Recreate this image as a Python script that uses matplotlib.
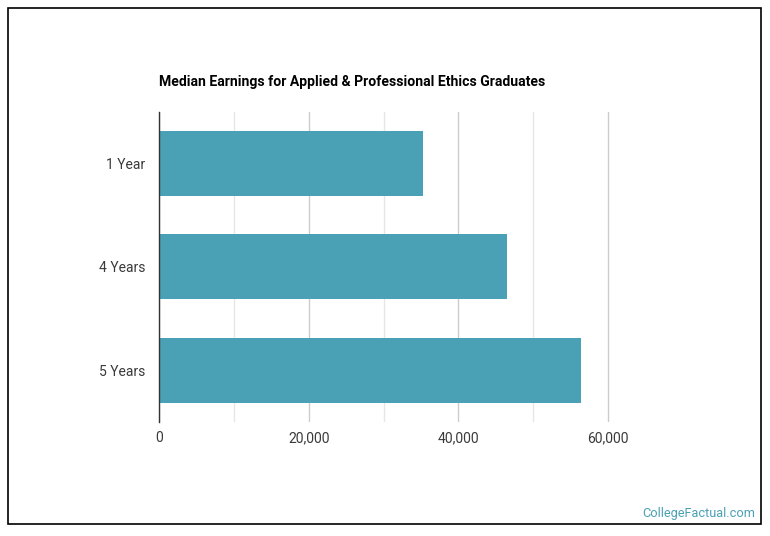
import matplotlib.pyplot as plt
from matplotlib.patches import Rectangle
from matplotlib.ticker import MultipleLocator, FuncFormatter

categories = ['1 Year', '4 Years', '5 Years']
earnings = [35300, 46500, 56400]
x_ticks = [0, 20000, 40000, 60000]

plt.rcParams['font.family'] = ['Roboto', 'DejaVu Sans']

fig = plt.figure(figsize=(7.70, 5.36), dpi=100)
fig.patches.append(Rectangle((8 / 770, 1 - 524 / 536), 753 / 770, 516 / 536,
                             transform=fig.transFigure, fill=False,
                             edgecolor='black', linewidth=1.2))

# axes extends a few px past 60,000 so that gridline is not clipped
x_max = 60000 * (612 - 159) / (608 - 159)
ax = fig.add_axes([159 / 770, 1 - 421.7 / 536, (612 - 159) / 770, (421.7 - 112) / 536])
pos = list(range(len(categories)))
ax.barh(pos, earnings, height=0.63, color='#4aa0b4', zorder=3)
ax.set_ylim(len(categories) - 0.5, -0.5)
ax.set_xlim(0, x_max)
ax.set_yticks(pos)
ax.set_yticklabels(categories)
ax.set_xticks(x_ticks)
ax.xaxis.set_major_formatter(FuncFormatter(lambda v, p: f'{int(v):,}'))
ax.xaxis.set_minor_locator(MultipleLocator(10000))

ax.grid(axis='x', which='major', color='#cccccc', linewidth=1, zorder=0)
ax.grid(axis='x', which='minor', color='#e6e6e6', linewidth=1, zorder=0)
ax.tick_params(axis='both', which='both', length=0, labelsize=10, colors='#3a3a3a')
ax.tick_params(axis='x', pad=7)
ax.tick_params(axis='y', pad=10)
for s in ['top', 'right', 'bottom']:
    ax.spines[s].set_visible(False)
ax.spines['left'].set_color('#333333')
ax.spines['left'].set_linewidth(1)
ax.spines['left'].set_zorder(4)

fig.text(159 / 770, 1 - 82 / 536, 'Median Earnings for Applied & Professional Ethics Graduates',
         fontsize=10.1, fontweight='bold', color='black', va='center', ha='left')
fig.text(755 / 770, 1 - 513 / 536, 'CollegeFactual.com', fontsize=9.2,
         color='#4aa0b4', ha='right', va='center')

fig.savefig('out.png', dpi=100)
